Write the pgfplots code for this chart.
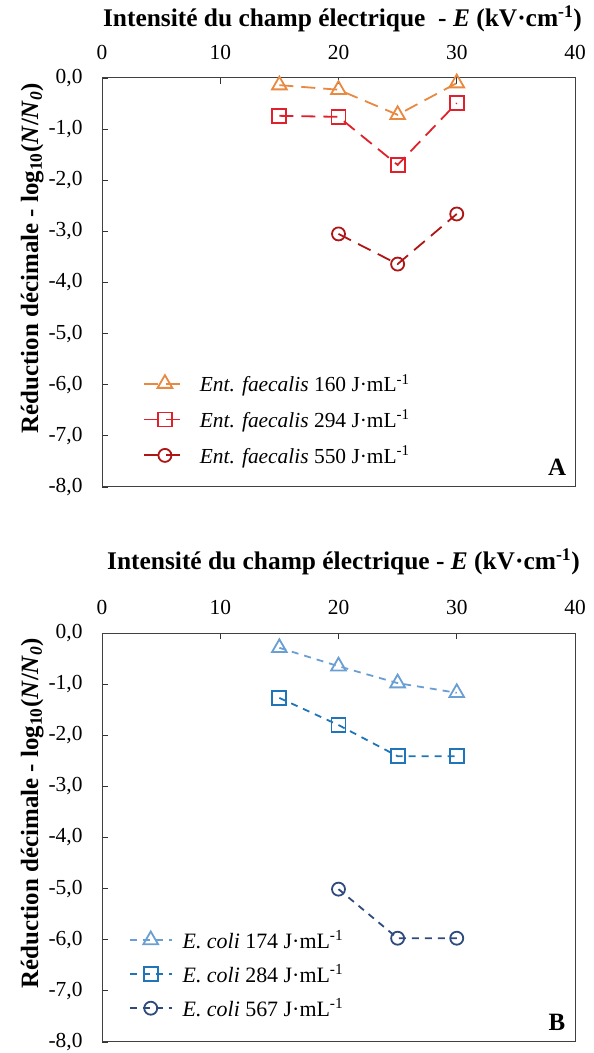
\documentclass[border=0pt]{standalone}
\usepackage{pgfplots}
\pgfplotsset{compat=1.18}
\usepackage{fontspec}
\setmainfont{Liberation Serif}
\definecolor{cAa}{HTML}{E8893F}
\definecolor{cAb}{HTML}{E0202A}
\definecolor{cAc}{HTML}{B01515}
\definecolor{cBa}{HTML}{6A9FD4}
\definecolor{cBb}{HTML}{1F75B8}
\definecolor{cBc}{HTML}{2F4B7C}
\begin{document}
\begin{tikzpicture}[x=1bp,y=1bp]
\path[use as bounding box] (0,0) rectangle (594,1053);
\pgfplotsset{
  common/.style={
    scale only axis, width=473bp, height=409bp,
    xmin=0, xmax=40, ymin=-8, ymax=0,
    xtick={0,10,20,30,40}, xticklabels={0,10,20,30,40},
    ytick={-8,-7,-6,-5,-4,-3,-2,-1,0},
    yticklabels={{-8,0},{-7,0},{-6,0},{-5,0},{-4,0},{-3,0},{-2,0},{-1,0},{0,0}},
    xtick pos=top, xticklabel pos=top, ytick pos=left,
    tick align=inside, major tick length=6bp,
    tick style={black!80, line width=0.8bp},
    axis line style={black!75, line width=1bp},
    tick label style={font=\fontsize{21.5}{24}\selectfont},
    xticklabel style={yshift=15bp},
    yticklabel style={xshift=-16bp},
    ylabel style={font=\bfseries\fontsize{25}{28}\selectfont, at={(ticklabel cs:0.56)}, yshift=-2bp},
    ylabel={Réduction décimale - log\textsubscript{10}(\textit{N}/\textit{N}\textsubscript{\textit{0}})},
    legend cell align=left,
    legend image code/.code={\draw[mark repeat=2,mark phase=2] plot coordinates {(0bp,0bp)(21bp,0bp)(42bp,0bp)};},
  },
  sA/.style={line width=1.8bp, dash pattern=on 14bp off 8bp, mark options={solid, line width=1.8bp}},
  sB/.style={line width=1.8bp, dash pattern=on 7bp off 6bp, mark options={solid, line width=1.8bp}},
}
\begin{axis}[common, at={(102bp,566bp)}, anchor=south west,
  xlabel={Intensité du champ électrique \ - \textit{E} (kV·cm\textsuperscript{-1})},
  xlabel style={font=\bfseries\fontsize{25.5}{28}\selectfont, xshift=4bp, yshift=6bp},
  legend style={at={(rel axis cs:0.08,0.286)}, anchor=north west, draw=none, fill=none,
    font=\fontsize{21.5}{24}\selectfont, row sep=13bp, column sep=11bp},
]
\addplot[sA, color=cAa, mark=triangle, mark size=8.5bp] coordinates {(15,-0.14)(20,-0.23)(25,-0.72)(30,-0.1)};
\addlegendentry{\textit{Ent. faecalis} 160 J·mL\textsuperscript{-1}}
\addplot[sA, color=cAb, mark=square, mark size=7bp] coordinates {(15,-0.74)(20,-0.76)(25,-1.7)(30,-0.49)};
\addlegendentry{\textit{Ent. faecalis} 294 J·mL\textsuperscript{-1}}
\addplot[sA, color=cAc, mark=o, mark size=6.5bp] coordinates {(20,-3.05)(25,-3.64)(30,-2.66)};
\addlegendentry{\textit{Ent. faecalis} 550 J·mL\textsuperscript{-1}}
\node[font=\bfseries\fontsize{25}{28}\selectfont] at (rel axis cs:0.962,0.049) {A};
\end{axis}
\begin{axis}[common, at={(102bp,11bp)}, anchor=south west,
  xlabel={Intensité du champ électrique - \textit{E} (kV·cm\textsuperscript{-1})},
  xlabel style={font=\bfseries\fontsize{25.5}{28}\selectfont, xshift=5bp, yshift=18bp},
  legend style={at={(rel axis cs:0.05,0.283)}, anchor=north west, draw=none, fill=none,
    font=\fontsize{22}{24}\selectfont, row sep=11bp, column sep=8bp},
]
\addplot[sB, color=cBa, mark=triangle, mark size=8.5bp] coordinates {(15,-0.29)(20,-0.65)(25,-0.98)(30,-1.17)};
\addlegendentry{\textit{E. coli} 174 J·mL\textsuperscript{-1}}
\addplot[sB, color=cBb, mark=square, mark size=7bp] coordinates {(15,-1.27)(20,-1.8)(25,-2.41)(30,-2.41)};
\addlegendentry{\textit{E. coli} 284 J·mL\textsuperscript{-1}}
\addplot[sB, color=cBc, mark=o, mark size=6.5bp] coordinates {(20,-5.01)(25,-5.97)(30,-5.97)};
\addlegendentry{\textit{E. coli} 567 J·mL\textsuperscript{-1}}
\node[font=\bfseries\fontsize{25}{28}\selectfont] at (rel axis cs:0.962,0.049) {B};
\end{axis}
\end{tikzpicture}
\end{document}
